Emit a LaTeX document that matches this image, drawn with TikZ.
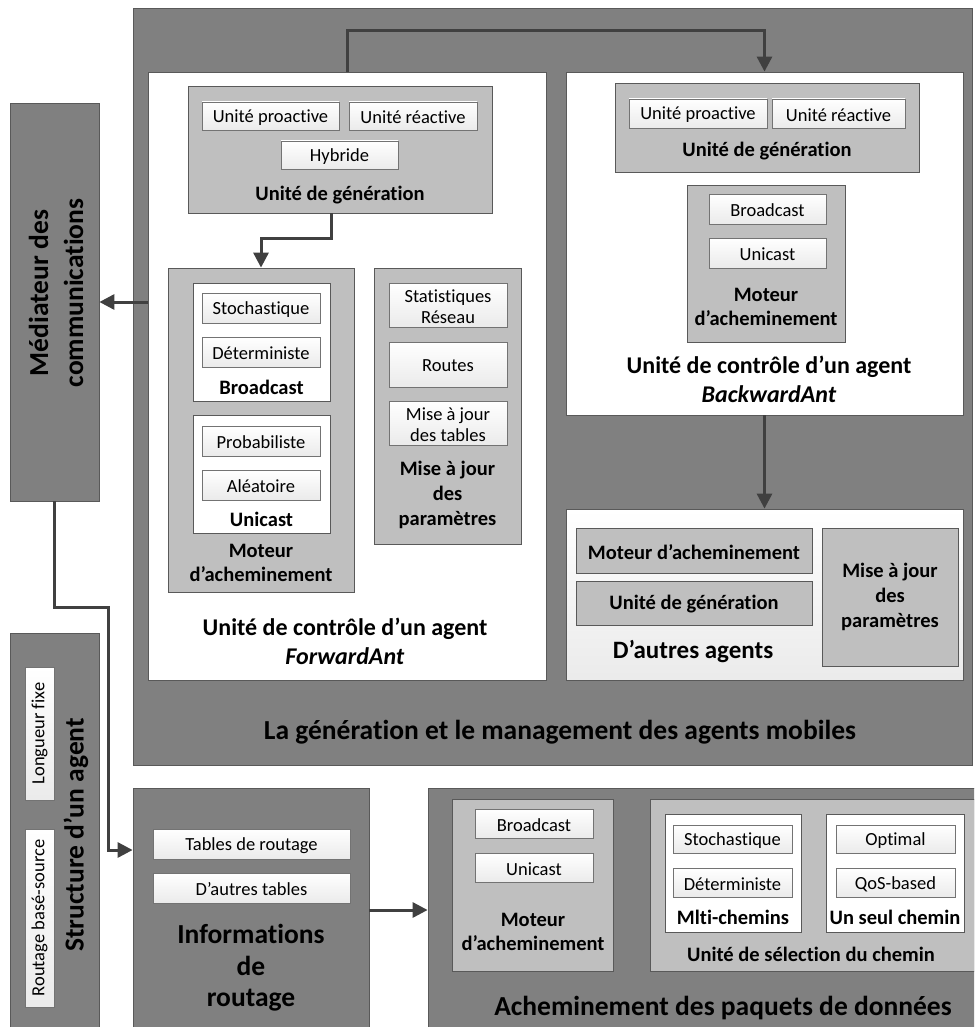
\documentclass[tikz,border=0pt]{standalone}
\usepackage{fontspec}
\setmainfont{Carlito}[Ligatures=NoCommon]
\usetikzlibrary{arrows.meta,fit}
\definecolor{dk}{HTML}{808080}
\definecolor{lg}{HTML}{BFBFBF}
\definecolor{bd}{HTML}{595959}
\definecolor{cn}{HTML}{404040}
% box with a centred text: style, name, corner, corner, text style, text
\newcommand\tbox[6]{\node[#1, fit={#3 #4}] (#2) {}; \node[#5] (#2t) at (#2.center) {#6};}
\begin{document}
\begin{tikzpicture}[x=1pt,y=-1pt,
  dkbox/.style={draw=bd, fill=dk, line width=0.8pt, inner sep=0pt},
  gbox/.style={draw=bd, fill=lg, line width=0.8pt, inner sep=0pt},
  wbox/.style={draw=bd, fill=white, line width=0.8pt, inner sep=0pt},
  obox/.style={draw=bd, top color=white, bottom color=black!8, line width=0.8pt, inner sep=0pt},
  sbox/.style={draw=black!55, top color=white, bottom color=black!8, line width=0.8pt, inner sep=0pt},
  txt/.style={font=\fontsize{18.5}{21.5}\selectfont, inner sep=0pt, align=center},
  tb/.style={txt, yshift=-1.5pt},
  lbl/.style={font=\bfseries\fontsize{20.5}{24.5}\selectfont, inner sep=0pt, align=center},
  mid/.style={font=\bfseries\fontsize{24}{28.5}\selectfont, inner sep=0pt, align=center},
  big/.style={font=\bfseries\fontsize{27.5}{32}\selectfont, inner sep=0pt, align=center},
  conn/.style={draw=cn, line width=3pt, -{Triangle[length=15pt,width=15pt]}}]
\useasboundingbox (0,0) rectangle (974,1027);
\clip (0,0) rectangle (974,1027);
\fill[white] (0,0) rectangle (974,1027);

% ---------- management of mobile agents ----------
\node[dkbox, fit={(133,8) (972,765)}] (mg) {};
\node[big] (mgt) at (560,732) {La génération et le management des agents mobiles};

% ---------- Mediateur ----------
\node[dkbox, fit={(10,103) (99,501)}] (med) {};
\node[big, font=\bfseries\fontsize{27.5}{35}\selectfont, rotate=90] (medt) at (56,293) {Médiateur des\\communications};

% ---------- Structure d'un agent ----------
\node[dkbox, fit={(10,633) (99,1040)}] (str) {};
\tbox{sbox}{lf}{(25,667)}{(54,800)}{txt, rotate=90}{Longueur fixe}
\tbox{sbox}{rbs}{(25,829)}{(54,1007)}{txt, rotate=90}{Routage basé-source}
\node[big, rotate=90] (strt) at (76,835) {Structure d’un agent};

% ---------- ForwardAnt ----------
\node[wbox, fit={(148,72) (546,680)}] (fa) {};
\node[gbox, fit={(188,86) (492,213)}] (fagen) {};
\tbox{sbox}{fapro}{(202,102)}{(339,130)}{tb}{Unité proactive}
\tbox{sbox}{farea}{(349,102)}{(477,130)}{tb}{Unité réactive}
\tbox{sbox}{fahyb}{(281,141)}{(398,169)}{tb}{Hybride}
\node[lbl] (fagent) at (340,195) {Unité de génération};

\node[gbox, fit={(168,268) (354,592)}] (famot) {};
\node[wbox, fit={(193,283) (330,401)}] (fabc) {};
\tbox{sbox}{fasto}{(202,293)}{(320,323)}{tb}{Stochastique}
\tbox{sbox}{fadet}{(202,337)}{(320,367)}{tb}{Déterministe}
\node[lbl] (fabct) at (261.5,387) {Broadcast};
\node[wbox, fit={(193,415) (330,533)}] (fauni) {};
\tbox{sbox}{faprob}{(202,426)}{(320,456)}{tb}{Probabiliste}
\tbox{sbox}{faale}{(202,470)}{(320,500)}{tb}{Aléatoire}
\node[lbl] (faunit) at (261.5,519) {Unicast};
\node[lbl] (famott) at (261,563) {Moteur\\d’acheminement};

\node[gbox, fit={(374,268) (521,544)}] (famaj) {};
\tbox{sbox}{fastat}{(389,283)}{(507,327)}{tb}{Statistiques\\Réseau}
\tbox{sbox}{farout}{(389,342)}{(507,387)}{tb}{Routes}
\tbox{sbox}{fatab}{(389,401)}{(507,445)}{tb}{Mise à jour\\des tables}
\node[lbl, font=\bfseries\fontsize{20.5}{25}\selectfont] (famajt) at (447.5,495) {Mise à jour\\des\\paramètres};

\node[mid] (fat) at (345,641.5) {Unité de contrôle d’un agent\\\textit{ForwardAnt}};

% ---------- BackwardAnt ----------
\node[wbox, fit={(566,72) (963,415)}] (ba) {};
\node[gbox, fit={(615,83) (919,172)}] (bagen) {};
\tbox{sbox}{bapro}{(629,99)}{(767,128)}{tb}{Unité proactive}
\tbox{sbox}{barea}{(772,99)}{(905,128)}{tb}{Unité réactive}
\node[lbl] (bagent) at (767,151) {Unité de génération};
\node[gbox, fit={(687,185) (845,342)}] (bamot) {};
\tbox{sbox}{babc}{(709,194)}{(826,224)}{tb}{Broadcast}
\tbox{sbox}{baun}{(709,238)}{(826,268)}{tb}{Unicast}
\node[lbl] (bamott) at (766,307) {Moteur\\d’acheminement};
\node[mid] (bat) at (769,379.5) {Unité de contrôle d’un agent\\\textit{BackwardAnt}};

% ---------- D'autres agents ----------
\node[obox, fit={(566,509) (963,680)}] (oth) {};
\tbox{gbox}{othmot}{(576,528)}{(812,573)}{lbl, yshift=-1.5pt}{Moteur d’acheminement}
\tbox{gbox}{othgen}{(576,581)}{(812,625)}{lbl, yshift=-1.5pt}{Unité de génération}
\tbox{gbox}{othmaj}{(822,528)}{(958,666)}{lbl, font=\bfseries\fontsize{20.5}{25}\selectfont}{Mise à jour\\des\\paramètres}
\node[lbl, font=\bfseries\fontsize{25}{30}\selectfont] (otht) at (693,652) {D’autres agents};

% ---------- Informations de routage ----------
\node[dkbox, fit={(133,788) (369,1040)}] (inf) {};
\tbox{sbox}{inftr}{(153,829)}{(350,859)}{tb}{Tables de routage}
\tbox{sbox}{infat}{(153,873)}{(350,903)}{tb}{D’autres tables}
\node[big, font=\bfseries\fontsize{27.5}{31.5}\selectfont] (inft) at (251,968) {Informations\\de\\routage};

% ---------- Acheminement des paquets ----------
\node[dkbox, fit={(428,788) (990,1040)}] (ach) {};
\node[gbox, fit={(452,799) (613,971)}] (amot) {};
\tbox{sbox}{abc}{(475,809)}{(593,838)}{tb}{Broadcast}
\tbox{sbox}{aun}{(475,853)}{(593,882)}{tb}{Unicast}
\node[lbl] (amott) at (533,932) {Moteur\\d’acheminement};
\node[gbox, fit={(650,799) (990,971)}] (asel) {};
\node[wbox, fit={(665,814) (801,932)}] (ami) {};
\tbox{sbox}{asto}{(673,825)}{(792,853)}{tb}{Stochastique}
\tbox{sbox}{adet}{(673,868)}{(792,897)}{tb}{Déterministe}
\node[lbl] (amit) at (733,917) {Mlti-chemins};
\node[wbox, fit={(826,814) (964,932)}] (aun1) {};
\tbox{sbox}{aopt}{(836,825)}{(955,853)}{tb}{Optimal}
\tbox{sbox}{aqos}{(836,868)}{(955,897)}{tb}{QoS-based}
\node[lbl] (aun1t) at (895,917) {Un seul chemin};
\node[lbl] (aselt) at (811,954) {Unité de sélection du chemin};
\node[big] (acht) at (723,1008) {Acheminement des paquets de données};

% ---------- connectors ----------
\coordinate (c1) at (108,607);
\coordinate (c2) at (108,850);
\coordinate (c3) at (0,910);
\draw[conn] (fa.north) -- ++(0,-41) -| (ba.north);
\draw[conn] ([xshift=-9pt]fagen.south) -- ++(0,25) -| (famot.north);
\draw[conn] (fa.west |- med.east) -- (med.east);
\draw[conn] (med.south) |- (c1) -- (c2) -- (inf.west |- c2);
\draw[conn] (ba.south) -- (oth.north);
\draw[conn] (inf.east |- c3) -- (ach.west |- c3);
\end{tikzpicture}
\end{document}
